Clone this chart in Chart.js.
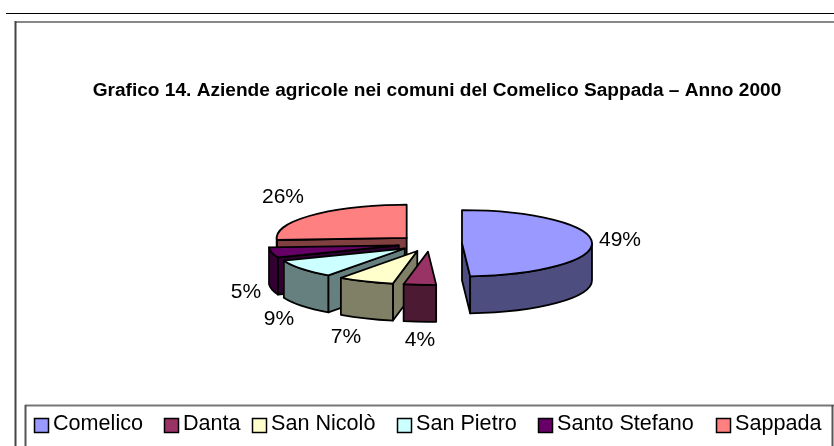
<!DOCTYPE html>
<html><head><meta charset="utf-8">
<style>html,body{margin:0;padding:0;background:#fff}#w{position:absolute;left:0;top:0;width:834px;height:446px}</style>
<script src="https://cdn.jsdelivr.net/npm/chart.js@4"></script>
</head><body><div id="w"><canvas id="c" width="834" height="446"></canvas></div>
<script>
const categories = ['Comelico','Danta','San Nicolò','San Pietro','Santo Stefano','Sappada'];
const shares = [49,4,7,9,5,26];
const topColors = ['#9999FF','#993366','#FFFFCC','#CCFFFF','#660066','#FF8080'];
const wallColors = ['#4D4D80','#4D1A33','#808066','#668080','#330033','#804040'];
const titleText = 'Grafico 14. Aziende agricole nei comuni del Comelico Sappada – Anno 2000';

// layout constants
const tilt = 0.255, depth = 37, explode = 32, radius = 130, cx = 430, cy = 243.5;
const labelAnchors = [[620,240],[420,340],[346,337],[279,319],[246,292],[283,197]];
const legendBoxX = [34,164,252,397,538,716];
const legendBoxY = 418, legendTextY = 424;
const FONT = '"Liberation Sans", Arial, sans-serif';

const pie3d = {
  id:'pie3d',
  beforeDraw(chart){
    const c = chart.ctx;
    c.save();
    c.fillStyle='#fff'; c.fillRect(0,0,834,446);
    c.strokeStyle='#000'; c.lineWidth=1;
    c.beginPath(); c.moveTo(6,13.5); c.lineTo(834,13.5); c.stroke();
    c.lineWidth=2;
    c.strokeStyle='#888';
    c.beginPath(); c.moveTo(16,22); c.lineTo(834,22); c.stroke();
    c.strokeStyle='#444';
    c.beginPath(); c.moveTo(15.5,21); c.lineTo(15.5,446); c.stroke();
    c.restore();
  },
  beforeDatasetsDraw(chart){
    const c = chart.ctx, arcs = chart.getDatasetMeta(0).data;
    const geo = arcs.map(a=>{
      const mid=(a.startAngle+a.endAngle)/2;
      return {a, s:a.startAngle, e:a.endAngle,
        x:cx+Math.cos(mid)*explode, y:cy+Math.sin(mid)*explode*tilt};
    });
    const px=(g,t)=>[g.x+Math.cos(t)*radius, g.y+Math.sin(t)*radius*tilt];
    const order=[5,4,3,2,1,0];
    c.save();
    c.lineJoin='round'; c.strokeStyle='#000'; c.lineWidth=1.8;
    // walls, back to front
    for(const i of order){
      const g=geo[i]; c.fillStyle=wallColors[i];
      const radial=(t)=>{
        const p=px(g,t);
        c.beginPath(); c.moveTo(g.x,g.y); c.lineTo(p[0],p[1]); c.lineTo(p[0],p[1]+depth); c.lineTo(g.x,g.y+depth); c.closePath(); c.fill(); c.stroke();
      };
      // a cut face is drawn only when it turns toward the viewer
      if(-Math.cos(g.s)>0) radial(g.s);
      if(Math.cos(g.e)>0) radial(g.e);
      // outer wall: only the near side of the rim
      const from=Math.max(g.s,0), to=Math.min(g.e,Math.PI);
      if(to>from){
        c.beginPath();
        c.ellipse(g.x,g.y,radius,radius*tilt,0,from,to);
        c.ellipse(g.x,g.y+depth,radius,radius*tilt,0,to,from,true);
        c.closePath(); c.fill(); c.stroke();
      }
    }
    // tops, through the library's arc elements
    for(const i of order){
      const g=geo[i];
      c.save();
      c.translate(g.x,g.y); c.scale(1,tilt); c.translate(-g.a.x,-g.a.y);
      g.a.draw(c);
      c.restore();
      c.beginPath();
      c.save();
      c.translate(g.x,g.y); c.scale(1,tilt);
      c.moveTo(0,0); c.arc(0,0,radius,g.s,g.e); c.closePath();
      c.restore();
      c.stroke();
    }
    c.restore();
    return false;
  },
  afterDraw(chart){
    const c=chart.ctx;
    c.save();
    c.fillStyle='#000'; c.textAlign='center'; c.textBaseline='middle';
    c.font='21px '+FONT;
    shares.forEach((v,i)=>c.fillText(v+'%',labelAnchors[i][0],labelAnchors[i][1]));
    // legend frame and items
    c.lineWidth=2;
    c.strokeStyle='#777';
    c.beginPath(); c.moveTo(25,405.5); c.lineTo(834,405.5); c.stroke();
    c.strokeStyle='#555';
    c.beginPath(); c.moveTo(25.5,405); c.lineTo(25.5,446); c.moveTo(832.5,405); c.lineTo(832.5,446); c.stroke();
    c.textAlign='left';
    c.font='21.6px '+FONT;
    categories.forEach((n,i)=>{
      const x=legendBoxX[i];
      c.fillStyle=topColors[i]; c.fillRect(x,legendBoxY,15,15);
      c.strokeStyle='#000'; c.lineWidth=1.5; c.strokeRect(x+.5,legendBoxY+.5,14,14);
      c.fillStyle='#000'; c.fillText(n,x+19,legendTextY);
    });
    c.restore();
  }
};

new Chart(document.getElementById('c'),{
  type:'pie',
  data:{labels:categories,datasets:[{data:shares,backgroundColor:topColors,borderWidth:0}]},
  options:{
    responsive:false,animation:false,radius:radius,
    layout:{padding:{top:79,left:40}},
    plugins:{
      legend:{display:false},tooltip:{enabled:false},
      title:{display:true,text:titleText,color:'#000',font:{family:FONT,size:19.1,weight:'bold'},padding:{top:0,bottom:0}}
    }
  },
  plugins:[pie3d]
});
</script></body></html>
